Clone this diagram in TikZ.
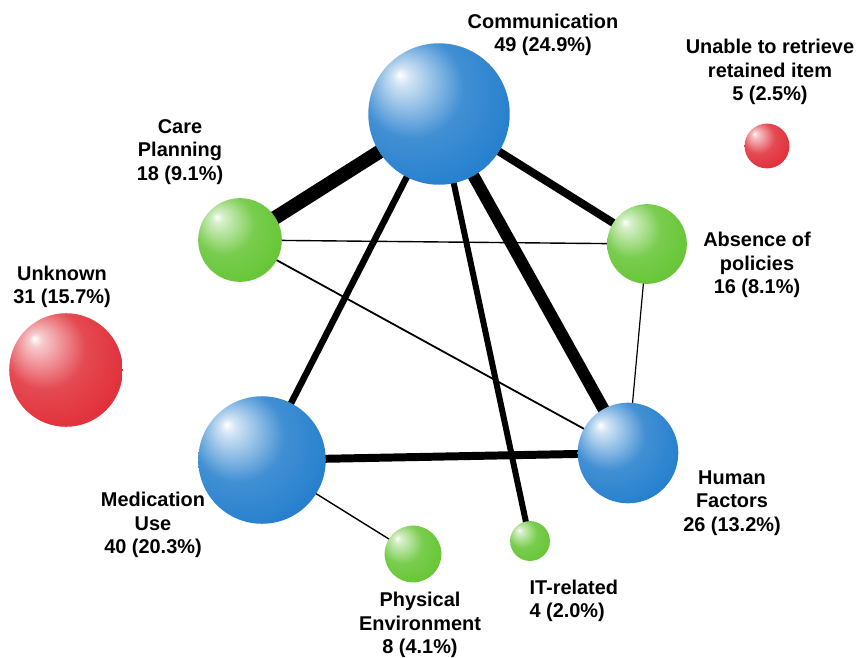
\documentclass[tikz,border=0pt]{standalone}
\usepackage{fontspec}
\setmainfont{Liberation Sans}
\usetikzlibrary{backgrounds}
\definecolor{ballblue}{RGB}{32,124,204}
\definecolor{ballgreen}{RGB}{98,196,48}
\definecolor{ballred}{RGB}{224,42,52}
\pgfdeclareradialshading{blueball}{\pgfpoint{-14bp}{14bp}}{color(0bp)=(white); color(3bp)=(ballblue!20!white); color(18bp)=(ballblue!85!white); color(36bp)=(ballblue); color(56bp)=(ballblue!55!black)}
\pgfdeclareradialshading{greenball}{\pgfpoint{-14bp}{14bp}}{color(0bp)=(white); color(3bp)=(ballgreen!25!white); color(18bp)=(ballgreen!85!white); color(36bp)=(ballgreen); color(56bp)=(ballgreen!55!black)}
\pgfdeclareradialshading{redball}{\pgfpoint{-14bp}{14bp}}{color(0bp)=(white); color(3bp)=(ballred!25!white); color(18bp)=(ballred!85!white); color(36bp)=(ballred); color(56bp)=(ballred!55!black)}
\begin{document}
\begin{tikzpicture}[x=1bp,y=-1bp,
  ball/.style={circle,inner sep=0pt,minimum size=#1},
  blue/.style={ball=#1,shading=blueball},
  green/.style={ball=#1,shading=greenball},
  red/.style={ball=#1,shading=redball},
  lbl/.style={align=center,font=\fontsize{20}{23.5}\selectfont\bfseries},
  conn/.style={line width=#1,black}]
  \useasboundingbox (0,0) rectangle (859,658);
  \node[blue=142] (comm) at (439,114) {};
  \node[red=45] (unable) at (767,146) {};
  \node[green=84] (care) at (240,240) {};
  \node[green=80] (absence) at (647,244) {};
  \node[red=114] (unknown) at (66,370) {};
  \node[blue=128] (med) at (262,460) {};
  \node[blue=101] (human) at (628,453) {};
  \node[green=57] (phys) at (413,554) {};
  \node[green=40] (it) at (530,541) {};
  \node[lbl] (commlbl) at (543,35) {Communication\\49 (24.9\%)};
  \node[lbl] (unablelbl) at (770,72) {Unable to retrieve\\retained item\\5 (2.5\%)};
  \node[lbl] (carelbl) at (180,152) {Care\\Planning\\18 (9.1\%)};
  \node[lbl] (absencelbl) at (757,265) {Absence of\\policies\\16 (8.1\%)};
  \node[lbl] (unknownlbl) at (62,287) {Unknown\\31 (15.7\%)};
  \node[lbl] (medlbl) at (153,525) {Medication\\Use\\40 (20.3\%)};
  \node[lbl] (humanlbl) at (732,503) {Human\\Factors\\26 (13.2\%)};
  \node[lbl] (physlbl) at (420,625) {Physical\\Environment\\8 (4.1\%)};
  \node[lbl,align=left,anchor=west] (itlbl) at (526,601) {IT-related\\4 (2.0\%)};
  \begin{scope}[on background layer]
    \draw[conn=14] (comm.center) -- (care.center);
    \draw[conn=8] (comm.center) -- (absence.center);
    \draw[conn=6.5] (comm.center) -- (med.center);
    \draw[conn=6] (comm.center) -- (it.center);
    \draw[conn=12] (comm.center) -- (human.center);
    \draw[conn=1.4] (care.center) -- (absence.center);
    \draw[conn=1.8] (care.center) -- (human.center);
    \draw[conn=1.2] (absence.center) -- (human.center);
    \draw[conn=8] (med.center) -- (human.center);
    \draw[conn=1.4] (med.center) -- (phys.center);
  \end{scope}
\end{tikzpicture}
\end{document}
